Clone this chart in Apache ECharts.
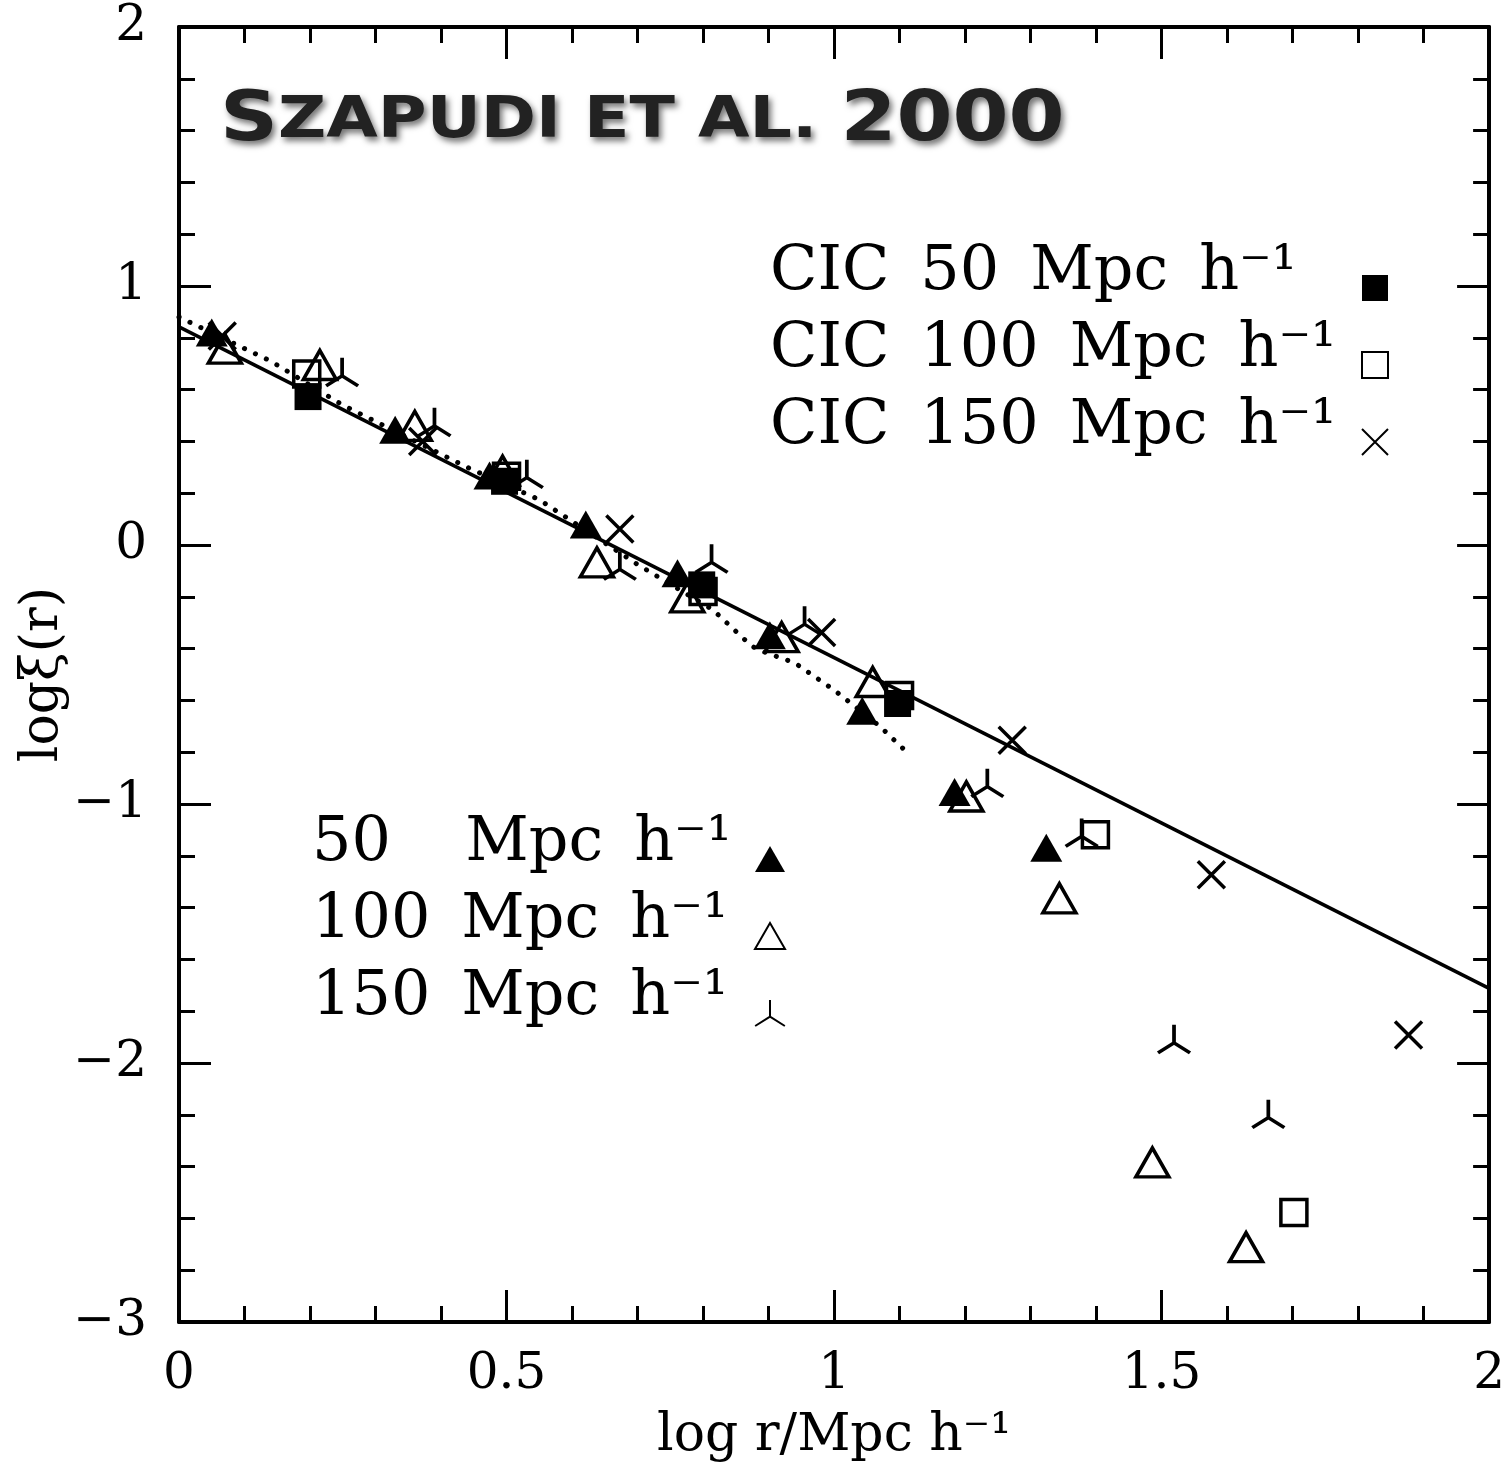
<!DOCTYPE html>
<html>
<head>
<meta charset="utf-8">
<script src="https://cdn.jsdelivr.net/npm/echarts@6/dist/echarts.min.js"></script>
<style>
  html, body { margin: 0; padding: 0; background: #fff; }
  #chart { width: 1508px; height: 1467px; }
</style>
</head>
<body>
<div id="chart"></div>
<script>
// Two-point correlation function, log xi(r) against log r, for several cell sizes.

// Filled triangles: 50 Mpc/h
const tri50X = [0.05, 0.33, 0.474, 0.621, 0.761, 0.902, 1.043, 1.184, 1.324];
const tri50Y = [0.82, 0.445, 0.268, 0.079, -0.109, -0.348, -0.64, -0.954, -1.169];

// Open triangles: 100 Mpc/h
const tri100X = [0.07, 0.215, 0.36, 0.494, 0.638, 0.776, 0.92, 1.059, 1.202, 1.344, 1.486, 1.629];
const tri100Y = [0.758, 0.695, 0.46, 0.287, -0.067, -0.202, -0.356, -0.529, -0.971, -1.364, -2.384, -2.711];

// Three-pronged stars: 150 Mpc/h
const star150X = [0.249, 0.39, 0.531, 0.673, 0.813, 0.955, 1.234, 1.378, 1.519, 1.663];
const star150Y = [0.653, 0.46, 0.26, -0.094, -0.067, -0.306, -0.933, -1.125, -1.922, -2.211];

// Filled squares: CIC 50 Mpc/h
const cic50X = [0.197, 0.497, 0.798, 1.097];
const cic50Y = [0.573, 0.246, -0.154, -0.612];

// Open squares: CIC 100 Mpc/h
const cic100X = [0.195, 0.5, 0.8, 1.1, 1.399, 1.702];
const cic100Y = [0.66, 0.265, -0.18, -0.581, -1.119, -2.577];

// Crosses: CIC 150 Mpc/h
const cic150X = [0.066, 0.372, 0.673, 0.981, 1.272, 1.576, 1.877];
const cic150Y = [0.807, 0.40, 0.062, -0.338, -0.754, -1.273, -1.892];

// Power-law fit (solid) and comparison curve (dotted)
const fitX = [0, 2];
const fitY = [0.842, -1.712];
const curveX = [0, 0.14, 0.25, 0.44, 0.55, 0.70, 0.815, 0.874, 0.89, 0.94, 1.00, 1.07, 1.105];
const curveY = [0.88, 0.71, 0.54, 0.30, 0.175, -0.075, -0.25, -0.39, -0.41, -0.455, -0.56, -0.70, -0.785];

// Axis ranges and label text
const xRange = [0, 2];
const yRange = [-3, 2];
const xTitle = 'log r/Mpc h\u207B\u00B9';
const yTitle = 'log\u03BE(r)';
const chartTitle = ['S', 'ZAPUDI ET AL. ', '2000'];

const names = {
  tri50: '50\u2003\u2009Mpc\u2002h\u207B\u00B9',
  tri100: '100\u2002Mpc\u2002h\u207B\u00B9',
  star150: '150\u2002Mpc\u2002h\u207B\u00B9',
  cic50: 'CIC\u200250\u2002Mpc\u2002h\u207B\u00B9',
  cic100: 'CIC\u2002100\u2002Mpc\u2002h\u207B\u00B9',
  cic150: 'CIC\u2002150\u2002Mpc\u2002h\u207B\u00B9'
};

const SERIF = 'DejaVu Serif';
const zip = (xs, ys) => xs.map((x, i) => [x, ys[i]]);

const TRISTAR = 'path://M16,0 L16,18 L0,28 M16,18 L32,28';
const CROSS = 'path://M0,0 L26,26 M26,0 L0,26';
const hollow = { color: 'rgba(0,0,0,0)', borderColor: '#000', borderWidth: 3.5, opacity: 1 };
const solid = { color: '#000', borderWidth: 0, opacity: 1 };

const axisBase = {
  type: 'value',
  splitLine: { show: false },
  axisLine: { show: true, onZero: false, lineStyle: { color: '#000', width: 4 } },
  axisTick: { show: true, inside: true, length: 32, lineStyle: { color: '#000', width: 3 } },
  minorTick: { show: true, splitNumber: 5, length: 16, lineStyle: { color: '#000', width: 3 } }
};

const labelBase = { fontFamily: SERIF, fontSize: 50, color: '#000' };

const legendText = (w) => ({
  rich: { a: { fontFamily: SERIF, fontSize: 62, color: '#000', align: 'left',
    width: w, lineHeight: 62, padding: [0, 0, 30, 0] } }
});

const option = {
  backgroundColor: '#fff',
  animation: false,
  grid: { left: 179, right: 18, top: 27, bottom: 133, containLabel: false },
  xAxis: [
    Object.assign({}, axisBase, {
      min: xRange[0], max: xRange[1], interval: 0.5, position: 'bottom',
      axisLabel: Object.assign({ margin: 28, showMinLabel: true, showMaxLabel: true,
        formatter: v => String(v) }, labelBase),
      name: xTitle, nameLocation: 'middle', nameGap: 88, nameMoveOverlap: false,
      nameTextStyle: { fontFamily: SERIF, fontSize: 52, color: '#000' }
    }),
    Object.assign({}, axisBase, {
      min: xRange[0], max: xRange[1], interval: 0.5, position: 'top',
      axisLabel: { show: false }
    })
  ],
  yAxis: [
    Object.assign({}, axisBase, {
      min: yRange[0], max: yRange[1], interval: 1, position: 'left',
      axisLabel: Object.assign({ margin: 32, showMinLabel: true, showMaxLabel: true,
        formatter: v => (v < 0 ? '\u2212' + Math.abs(v) : String(v)) }, labelBase),
      name: yTitle, nameLocation: 'middle', nameGap: 110, nameMoveOverlap: false,
      nameTextStyle: { fontFamily: SERIF, fontSize: 52, color: '#000' }
    }),
    Object.assign({}, axisBase, {
      min: yRange[0], max: yRange[1], interval: 1, position: 'right',
      axisLabel: { show: false }
    })
  ],
  legend: [
    {
      data: [names.cic50, names.cic100, names.cic150],
      left: 770, top: 242, orient: 'vertical', align: 'right', padding: 0,
      itemGap: -15, itemWidth: 26, itemHeight: 26, selectedMode: false,
      formatter: n => '{a|' + n + '}',
      textStyle: legendText(587)
    },
    {
      data: [names.tri50, names.tri100, names.star150],
      left: 312, top: 813, orient: 'vertical', align: 'right', padding: 0,
      itemGap: -15, itemWidth: 30, itemHeight: 26, selectedMode: false,
      formatter: n => '{a|' + n + '}',
      textStyle: legendText(438)
    }
  ],
  graphic: [
    {
      type: 'text', x: 220, y: 122, scaleX: 1.168,
      style: {
        text: '{b|' + chartTitle[0] + '}{s|' + chartTitle[1] + '}{b|' + chartTitle[2] + '}',
        verticalAlign: 'middle', align: 'left',
        rich: {
          b: { fontFamily: 'DejaVu Sans', fontWeight: 'bold', fontSize: 69, fill: '#222',
               textShadowColor: 'rgba(0,0,0,0.55)', textShadowBlur: 6,
               textShadowOffsetX: 3, textShadowOffsetY: 4 },
          s: { fontFamily: 'DejaVu Sans', fontWeight: 'bold', fontSize: 57, fill: '#222',
               textShadowColor: 'rgba(0,0,0,0.55)', textShadowBlur: 6,
               textShadowOffsetX: 3, textShadowOffsetY: 4 }
        }
      }
    }
  ],
  series: [
    {
      type: 'line', data: zip(fitX, fitY), symbol: 'none', silent: true,
      lineStyle: { color: '#000', width: 3.5 }, z: 1
    },
    {
      type: 'line', data: zip(curveX, curveY), symbol: 'none', silent: true,
      lineStyle: { color: '#000', width: 5, type: [0.1, 12], cap: 'round' }, z: 1
    },
    {
      name: names.cic50, type: 'scatter', data: zip(cic50X, cic50Y),
      symbol: 'rect', symbolSize: 27, itemStyle: solid, z: 3
    },
    {
      name: names.cic100, type: 'scatter', data: zip(cic100X, cic100Y),
      symbol: 'rect', symbolSize: 26, itemStyle: hollow, z: 3
    },
    {
      name: names.cic150, type: 'scatter', data: zip(cic150X, cic150Y),
      symbol: CROSS, symbolSize: 27, itemStyle: hollow, z: 3
    },
    {
      name: names.tri50, type: 'scatter', data: zip(tri50X, tri50Y),
      symbol: 'triangle', symbolSize: [32, 28], itemStyle: solid, z: 3
    },
    {
      name: names.tri100, type: 'scatter', data: zip(tri100X, tri100Y),
      symbol: 'triangle', symbolSize: [33, 29], itemStyle: hollow, z: 3
    },
    {
      name: names.star150, type: 'scatter', data: zip(star150X, star150Y),
      symbol: TRISTAR, symbolSize: [32, 28], symbolOffset: [0, -4], itemStyle: hollow, z: 3
    }
  ]
};

const chart = echarts.init(document.getElementById('chart'), null, { renderer: 'canvas' });
chart.setOption(option);
</script>
</body>
</html>
